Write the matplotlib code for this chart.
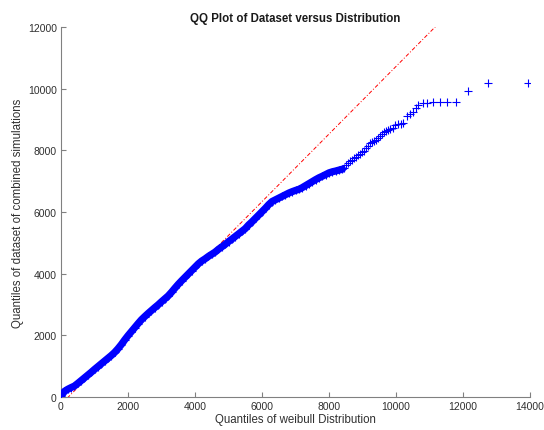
import matplotlib
matplotlib.use("Agg")
import matplotlib.pyplot as plt

# Dense part of the QQ data
dense_x = [0, 100, 200, 300, 400, 500, 600, 700, 800, 900,
           1000, 1100, 1200, 1300, 1400, 1500, 1600, 1700, 1800, 1900,
           2000, 2100, 2200, 2300, 2400, 2500, 2600, 2700, 2800, 2900,
           3000, 3100, 3200, 3300, 3400, 3500, 3600, 3700, 3800, 3900,
           4000, 4100, 4200, 4300, 4400, 4500, 4600, 4700, 4800, 4900,
           5000, 5100, 5200, 5300, 5400, 5500, 5600, 5700, 5800, 5900,
           6000, 6100, 6200, 6300, 6400, 6500, 6600, 6700, 6800, 6900,
           7000, 7100, 7200, 7300, 7400, 7500, 7600, 7700, 7800, 7900,
           8000, 8100, 8200, 8300, 8400]
dense_y = [20, 180, 250, 305, 355, 440, 530, 620, 710, 800,
           895, 985, 1075, 1165, 1255, 1345, 1445, 1565, 1700, 1850,
           1990, 2120, 2250, 2380, 2505, 2610, 2710, 2805, 2900, 2990,
           3090, 3185, 3280, 3400, 3530, 3655, 3770, 3880, 3990, 4100,
           4210, 4320, 4410, 4480, 4560, 4630, 4700, 4790, 4870, 4950,
           5040, 5120, 5205, 5290, 5375, 5460, 5580, 5680, 5790, 5900,
           6010, 6120, 6240, 6340, 6395, 6450, 6505, 6560, 6615, 6660,
           6700, 6735, 6790, 6855, 6920, 6985, 7050, 7110, 7160, 7215,
           7270, 7305, 7330, 7360, 7390]

# Sparse upper tail of the QQ data
tail_x = [8450, 8500, 8560, 8620, 8680, 8740, 8800, 8860, 8920, 8980,
          9040, 9100, 9160, 9220, 9280, 9340, 9400, 9460, 9520, 9580,
          9640, 9700, 9760, 9820, 9900, 9980, 10060, 10140, 10220, 10318,
          10420, 10517, 10600, 10666, 10815, 10915, 11114, 11313, 11512, 11791,
          12159, 12755, 13950]
tail_y = [7440, 7520, 7600, 7660, 7700, 7740, 7790, 7840, 7880, 7930,
          7990, 8060, 8140, 8230, 8270, 8300, 8340, 8400, 8470, 8540,
          8590, 8620, 8650, 8690, 8740, 8820, 8860, 8870, 8880, 9120,
          9180, 9240, 9380, 9470, 9535, 9540, 9575, 9580, 9580, 9580,
          9915, 10185, 10185]

# Reference line end points
ref_x = [0, 13950]
ref_y = [-240, 15050]

x_ticks = [0, 2000, 4000, 6000, 8000, 10000, 12000, 14000]
y_ticks = [0, 2000, 4000, 6000, 8000, 10000, 12000]

plt.rcParams['font.family'] = ['Liberation Sans', 'DejaVu Sans']

fig = plt.figure(figsize=(5.44, 4.31), dpi=100)
ax = fig.add_axes([61 / 544, 33 / 431, 469 / 544, 370 / 431])

blue = '#0000ff'
ax.plot(ref_x, ref_y, color='red', lw=0.7, linestyle=(0, (4, 2, 1, 2)), zorder=2)
ax.plot(dense_x, dense_y, '-', color=blue, lw=5.2, solid_capstyle='round', zorder=3)
ax.plot(dense_x + tail_x, dense_y + tail_y, '+', color=blue, ms=5.5, mew=0.8,
        linestyle='none', zorder=4)

ax.set_xlim(0, 14000)
ax.set_ylim(0, 12000)
ax.set_xticks(x_ticks)
ax.set_yticks(y_ticks)
ax.set_xticklabels([str(v) for v in x_ticks])
ax.set_yticklabels([str(v) for v in y_ticks])

for s in ['top', 'right']:
    ax.spines[s].set_visible(False)
for s in ['left', 'bottom']:
    ax.spines[s].set_color('#808080')
    ax.spines[s].set_linewidth(0.8)
ax.tick_params(direction='in', length=3.5, width=0.8, color='#808080',
               labelsize=7.5, labelcolor='#303030', pad=3)

ax.set_xlabel('Quantiles of weibull Distribution', fontsize=8.3, color='#303030', labelpad=1.5)
ax.set_ylabel('Quantiles of dataset of combined simulations', fontsize=8.3, color='#303030', labelpad=3)
ax.set_title('QQ Plot of Dataset versus Distribution', fontsize=8.3, fontweight='bold',
             color='#1a1a1a', pad=4)

fig.savefig('out.png', dpi=100)
